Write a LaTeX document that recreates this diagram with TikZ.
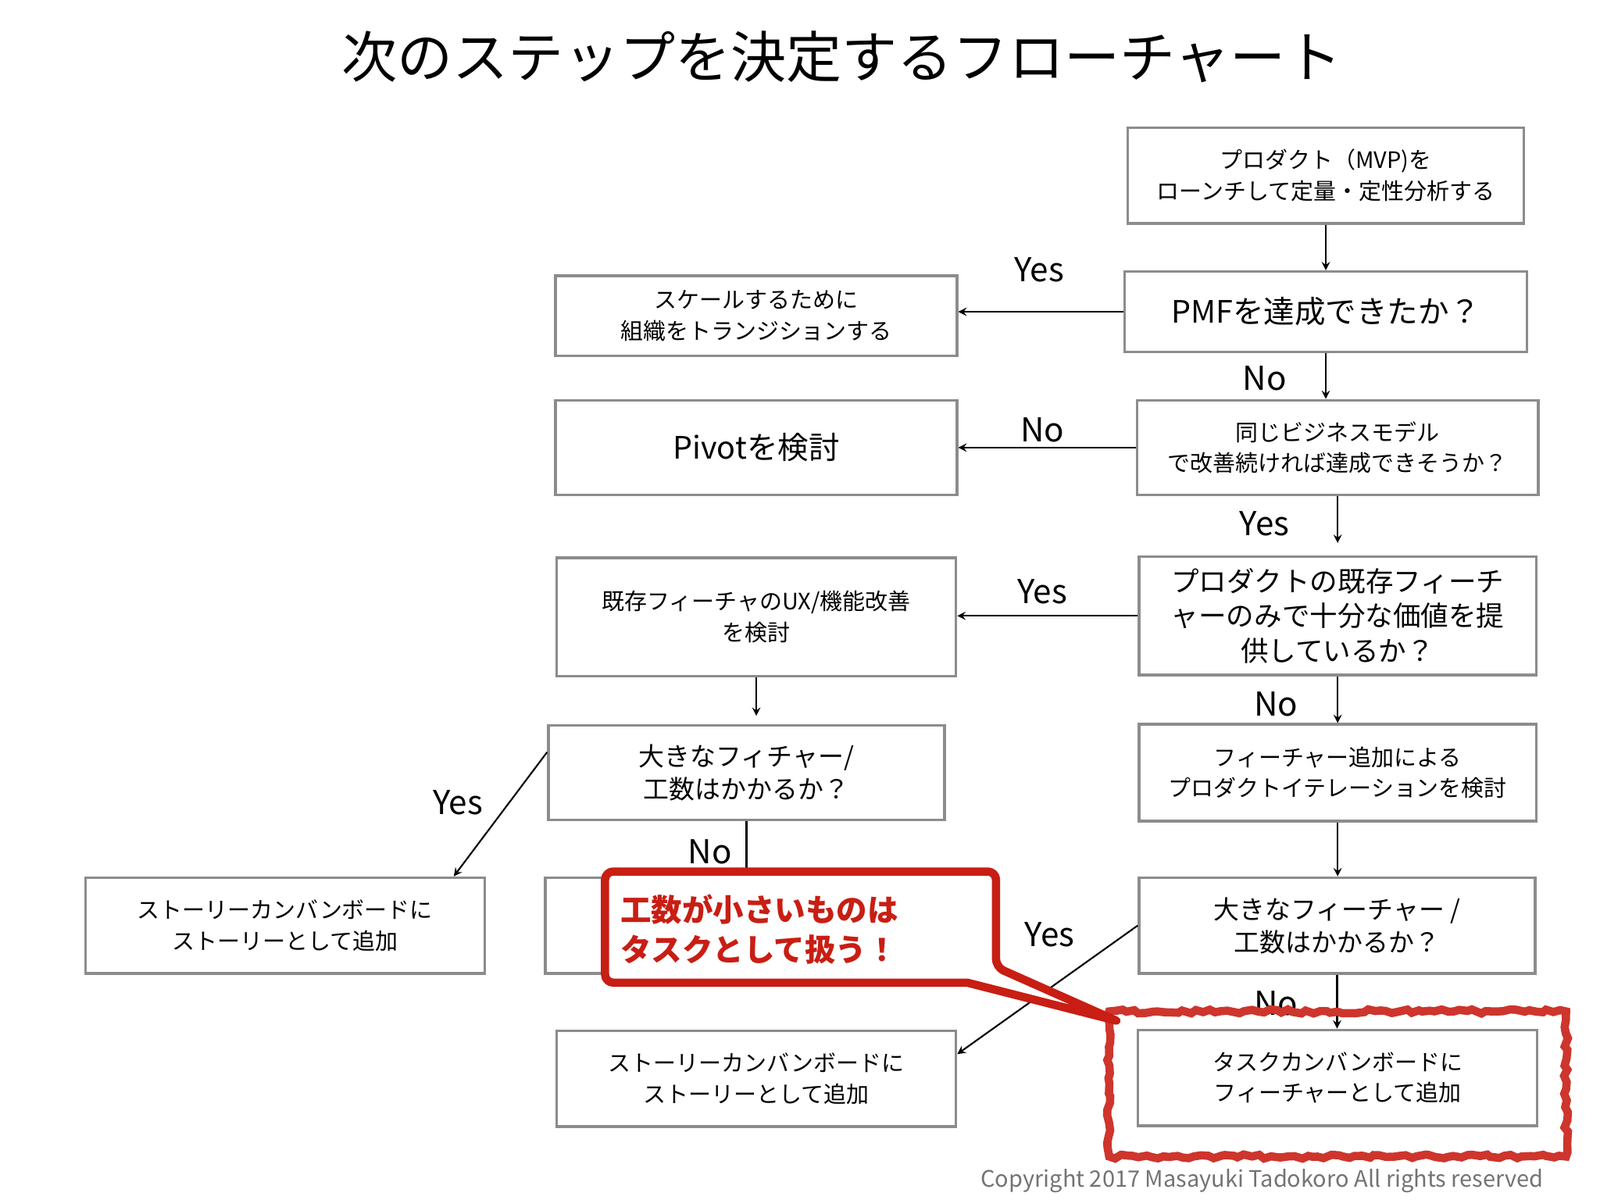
\documentclass[tikz,border=0pt]{standalone}
\usepackage{fontspec}
\setmainfont{Noto Sans CJK JP}
\usetikzlibrary{decorations.pathmorphing}
\definecolor{cred}{RGB}{200,30,20}
\begin{document}
\begin{tikzpicture}[x=0.5pt,y=-0.5pt,
 box/.style={draw=black!45,line width=1.3pt,align=center,inner sep=0pt,font=\fontsize{11}{15}\selectfont},
 big/.style={font=\fontsize{15}{19}\selectfont},
 mid/.style={font=\fontsize{13}{17}\selectfont},
 arr/.style={-stealth,line width=0.8pt},
 lab/.style={font=\fontsize{16}{18}\selectfont}]
\useasboundingbox (0,0) rectangle (1555,1166);
\newcommand\bx[6][]{\node[box,#1,minimum width={(#5-#3)*0.5pt},minimum height={(#6-#4)*0.5pt}] (#2) at ({(#3+#5)/2},{(#4+#6)/2}) {};}
\newcommand\tx[2]{\node[align=center,font=\fontsize{11}{15}\selectfont] at (#1) {#2};}
\bx{mvp}{1096}{124}{1481}{217}
\node[align=center,font=\fontsize{11}{15}\selectfont] at (mvp) {プロダクト（MVP)を\\ローンチして定量・定性分析する};
\bx{pmf}{1093}{264}{1484}{342}
\node[big] at (pmf) {PMFを達成できたか？};
\bx{scale}{540}{268}{930}{346}
\node[align=center,font=\fontsize{11}{15}\selectfont] at (scale) {スケールするために\\組織をトランジションする};
\bx{same}{1105}{389}{1495}{481}
\node[align=center,font=\fontsize{11}{15}\selectfont] at (same) {同じビジネスモデル\\で改善続ければ達成できそうか？};
\bx{pivot}{540}{389}{930}{481}
\node[big] at (pivot) {Pivotを検討};
\bx{exist}{1107}{541}{1493}{656}
\node[align=center,font=\fontsize{13.5}{17}\selectfont] at (exist) {プロダクトの既存フィーチ\\ャーのみで十分な価値を提\\供しているか？};
\bx{ux}{541}{542}{929}{657}
\node[align=center,font=\fontsize{11}{15}\selectfont] at (ux) {既存フィーチャのUX/機能改善\\を検討};
\bx{bigl}{533}{705}{918}{797}
\node[align=center,font=\fontsize{12.5}{16}\selectfont] at (bigl) {大きなフィチャー/\\工数はかかるか？};
\bx{fadd}{1107}{704}{1493}{798}
\node[align=center,font=\fontsize{11}{15}\selectfont] at (fadd) {フィーチャー追加による\\プロダクトイテレーションを検討};
\bx{storyl}{83}{853}{471}{946}
\node[align=center,font=\fontsize{11}{15}\selectfont] at (storyl) {ストーリーカンバンボードに\\ストーリーとして追加};
\bx{hidden}{530}{853}{918}{946}
\bx{bigr}{1107}{853}{1492}{946}
\node[align=center,font=\fontsize{12.5}{16}\selectfont] at (bigr) {大きなフィーチャー /\\工数はかかるか？};
\bx{storyb}{541}{1002}{929}{1095}
\node[align=center,font=\fontsize{11}{15}\selectfont] at (storyb) {ストーリーカンバンボードに\\ストーリーとして追加};
\bx{task}{1106}{1001}{1494}{1094}
\node[align=center,font=\fontsize{11}{15}\selectfont] at (task) {タスクカンバンボードに\\フィーチャーとして追加};
\node[font=\fontsize{27}{30}\selectfont] (title) at (818,55) {次のステップを決定するフローチャート};
\node[anchor=east,text=black!55,font=\fontsize{11}{13}\selectfont] (copy) at (1507,1148) {Copyright 2017 Masayuki Tadokoro All rights reserved};
% arrows
\draw[arr] (mvp.south) -- (mvp.south |- pmf.north);
\draw[arr] (pmf.west) -- (pmf.west -| scale.east);
\node[lab] at (1010,262) {Yes};
\draw[arr] (pmf.south) -- (pmf.south |- same.north);
\node[lab] at (1229,368) {No};
\draw[arr] (same.west) -- (same.west -| pivot.east);
\node[lab] at (1013,418) {No};
\draw[arr] (same.south) -- ([yshift=6pt]same.south |- exist.north);
\node[lab] at (1229,509) {Yes};
\draw[arr] (exist.west) -- (exist.west -| ux.east);
\node[lab] at (1013,575) {Yes};
\draw[arr] (exist.south) -- (exist.south |- fadd.north);
\node[lab] at (1240,684) {No};
\draw[arr] (ux.south) -- ([yshift=4pt]ux.south |- bigl.north);
\draw[arr] ([yshift=10pt]bigl.west) -- ([xshift=82pt]storyl.north);
\node[lab] at (445,780) {Yes};
\draw[arr] (bigl.south) -- (bigl.south |- hidden.north);
\node[lab] at (690,828) {No};
\draw[arr] (fadd.south) -- (fadd.south |- bigr.north);
\draw[arr] (bigr.west) -- ([yshift=12pt]storyb.east);
\node[lab] at (1020,908) {Yes};
\draw[arr] (bigr.south) -- (bigr.south |- task.north);
\node[lab] at (1240,975) {No};
% red highlight
\draw[cred!90,line width=4pt,decorate,decoration={random steps,segment length=3pt,amplitude=1pt}] (1078,983) rectangle (1522,1124);
\draw[cred,line width=4pt,line join=round,fill=white,rounded corners=4pt] (588,847) -- (968,847) -- (968,940) [sharp corners] -- (1085,992) -- (940,955) [rounded corners=4pt] -- (588,955) -- cycle;
\node[anchor=north west,align=left,text=cred,font=\bfseries\fontsize{15}{19.5}\selectfont] (call) at (596,862) {工数が小さいものは\\タスクとして扱う！};
\end{tikzpicture}
\end{document}
